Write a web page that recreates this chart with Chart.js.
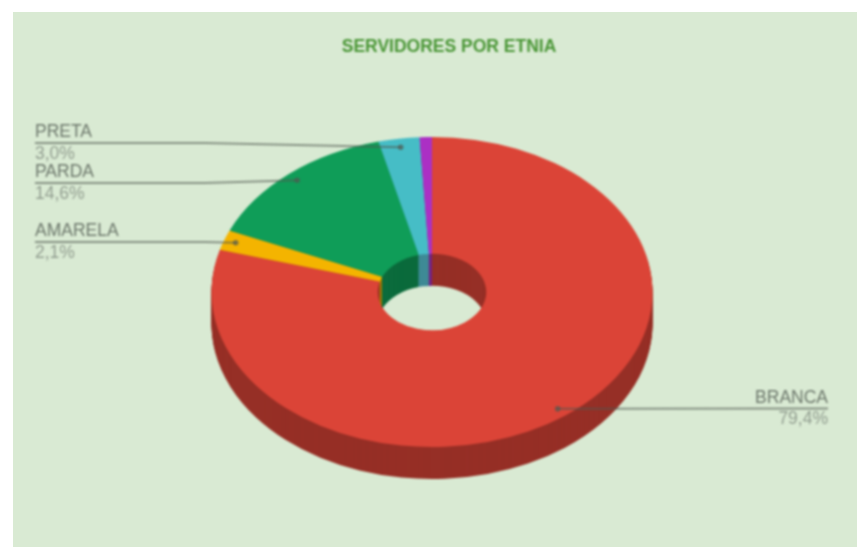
<!DOCTYPE html>
<html lang="pt">
<head>
<meta charset="utf-8">
<title>Servidores por etnia</title>
<script src="https://cdn.jsdelivr.net/npm/chart.js@4"></script>
<style>
  html, body { margin: 0; padding: 0; background: #fff; overflow: hidden; }
  #panel { position: absolute; left: 13px; top: 12px; width: 844px; height: 535px; background: #d9ead3; }
  #chart { position: absolute; left: 0; top: 0; filter: blur(0.8px); }
</style>
</head>
<body>
<div id="panel"></div>
<canvas id="chart" width="857" height="547"></canvas>
<script>
"use strict";

// ── Data ────────────────────────────────────────────────────────────────────
const CATEGORIES = ["BRANCA", "AMARELA", "PARDA", "PRETA", ""];
const VALUES = [79.4, 2.1, 14.6, 3.0, 0.9];
const TITLE = "SERVIDORES POR ETNIA";

// ── Colours ─────────────────────────────────────────────────────────────────
const TOP_COLORS = ["#db4437", "#f4b400", "#0f9d58", "#46bdc6", "#ab30c4"];
const SIDE_COLORS = ["#962f26", "#a67b00", "#0b6b3c", "#3f8a96", "#752185"];

// ── Layout of the tilted ring and its leader lines ──────────────────────────
const RING = { cx: 432, cy: 292, radius: 220.5, squash: 0.703, depth: 32 };
const LEADER_LINE_Y = [408.5, 242, 183, 143, null];  // y of the horizontal part
const LEADER_END_X = { left: 35, right: 828 };
const LEADER_ELBOW_X = 205;
const ANCHOR_FRACTION = 0.945;

function formatPercent(v) {
  return v.toFixed(1).replace(".", ",") + "%";
}

// Moves the ring drawn by the library onto the tilted plane
function tiltTransform(ctx, arc, drop) {
  ctx.translate(RING.cx, RING.cy + drop);
  ctx.scale(1, RING.squash);
  ctx.translate(-arc.x, -arc.y);
}

const tiltedRing = {
  id: "tiltedRing",
  beforeDatasetsDraw(chart) {
    const { ctx } = chart;
    const arcs = chart.getDatasetMeta(0).data;
    // side wall: dark copies of the arcs, stacked from the bottom up
    for (let d = RING.depth; d >= 1; d--) {
      ctx.save();
      tiltTransform(ctx, arcs[0], d);
      arcs.forEach((arc, i) => {
        const side = Object.create(arc, {
          options: { value: { ...arc.options, backgroundColor: SIDE_COLORS[i] } },
        });
        side.draw(ctx);
      });
      ctx.restore();
    }
    ctx.save();
    tiltTransform(ctx, arcs[0], 0);
  },
  afterDatasetsDraw(chart) {
    const { ctx } = chart;
    ctx.restore();
    drawLeaders(chart);
  },
};

function drawLeaders(chart) {
  const { ctx } = chart;
  const arcs = chart.getDatasetMeta(0).data;
  ctx.save();
  arcs.forEach((arc, i) => {
    const lineY = LEADER_LINE_Y[i];
    if (lineY === null) return;
    const mid = (arc.startAngle + arc.endAngle) / 2;
    const ax = RING.cx + Math.cos(mid) * arc.outerRadius * ANCHOR_FRACTION;
    const ay = RING.cy + Math.sin(mid) * arc.outerRadius * ANCHOR_FRACTION * RING.squash;
    const onLeft = ax < RING.cx;
    const endX = onLeft ? LEADER_END_X.left : LEADER_END_X.right;

    ctx.strokeStyle = "rgba(80,88,80,0.6)";
    ctx.lineWidth = 2;
    ctx.beginPath();
    ctx.moveTo(endX, lineY);
    if (onLeft) ctx.lineTo(LEADER_ELBOW_X, lineY);
    ctx.lineTo(ax, ay);
    ctx.stroke();

    ctx.fillStyle = "rgba(80,88,80,0.7)";
    ctx.beginPath();
    ctx.arc(ax, ay, 2.8, 0, Math.PI * 2);
    ctx.fill();

    ctx.textAlign = onLeft ? "left" : "right";
    ctx.textBaseline = "middle";
    ctx.font = "17.5px 'Liberation Sans', Arial, sans-serif";
    ctx.fillStyle = "#6d786c";
    ctx.fillText(CATEGORIES[i], endX, lineY - 10.5);
    ctx.fillStyle = "#929e90";
    ctx.fillText(formatPercent(VALUES[i]), endX, lineY + 11);
  });
  ctx.restore();
}

// ── Chart ───────────────────────────────────────────────────────────────────
new Chart(document.getElementById("chart").getContext("2d"), {
  type: "doughnut",
  data: {
    labels: CATEGORIES,
    datasets: [{
      data: VALUES,
      backgroundColor: TOP_COLORS,
      borderWidth: 0,
      clip: false,
    }],
  },
  options: {
    responsive: false,
    animation: false,
    radius: RING.radius,
    cutout: "24.6%",
    layout: { padding: { left: 41 } },
    plugins: {
      legend: { display: false },
      tooltip: { enabled: false },
      title: {
        display: true,
        text: TITLE,
        fullSize: false,
        color: "#4a9636",
        font: { family: "'Liberation Sans', Arial, sans-serif", size: 17.5, weight: "bold" },
        padding: { top: 36.5, bottom: 4 },
      },
    },
  },
  plugins: [tiltedRing],
});
</script>
</body>
</html>
